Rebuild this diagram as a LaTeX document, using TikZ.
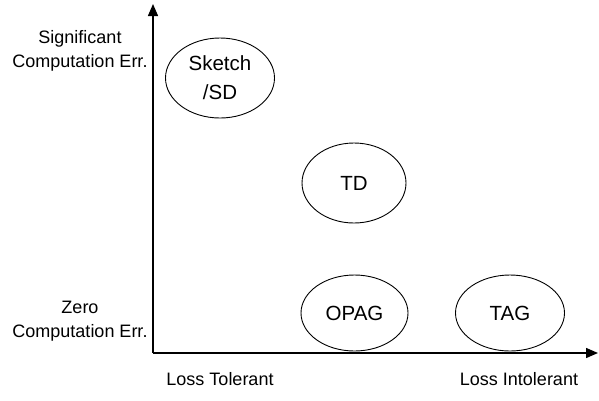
\documentclass[tikz,border=0pt]{standalone}
\usepackage{fontspec}
\setmainfont{Liberation Sans}
\usetikzlibrary{arrows.meta,shapes.geometric}

\begin{document}
\begin{tikzpicture}[x = 1pt, y = -1pt,
    method/.style = {draw, ellipse, line width = .9pt, inner sep = 0pt,
      minimum width = 107pt, minimum height = 78pt, align = center,
      font = \fontsize{20.5}{29}\selectfont},
    axislabel/.style = {align = center, font = \fontsize{18}{23.5}\selectfont}]
  \useasboundingbox (0, 0) rectangle (599, 400);
  \def\orgx{153}
  \def\orgy{353}
  \coordinate (origin) at (\orgx, \orgy);
  \coordinate (ytip) at (\orgx, 4);
  \coordinate (xtip) at (598, \orgy);
  \draw[-{Triangle[length = 12pt, width = 10pt]}, line width = 1.4pt] (origin)--(ytip);
  \draw[-{Triangle[length = 12pt, width = 10pt]}, line width = 1.4pt] (origin)--(xtip);
  \node[axislabel] (sigerr) at (80, 51) {Significant\\Computation Err.};
  \node[axislabel] (zeroerr) at (80, 321) {Zero\\Computation Err.};
  \node[axislabel] (tolerant) at (220, 379) {Loss Tolerant};
  \node[axislabel] (intolerant) at (519, 379) {Loss Intolerant};
  \node[method, minimum width = 109pt, minimum height = 80pt] (sketch) at (220, 78) {Sketch\\/SD};
  \node[method, minimum width = 104pt, minimum height = 80pt] (td) at (354, 183) {TD};
  \node[method, minimum height = 76pt] (opag) at (354.5, 313) {OPAG};
  \node[method, minimum width = 109pt, minimum height = 76pt] (tag) at (510, 313) {TAG};
\end{tikzpicture}
\end{document}
